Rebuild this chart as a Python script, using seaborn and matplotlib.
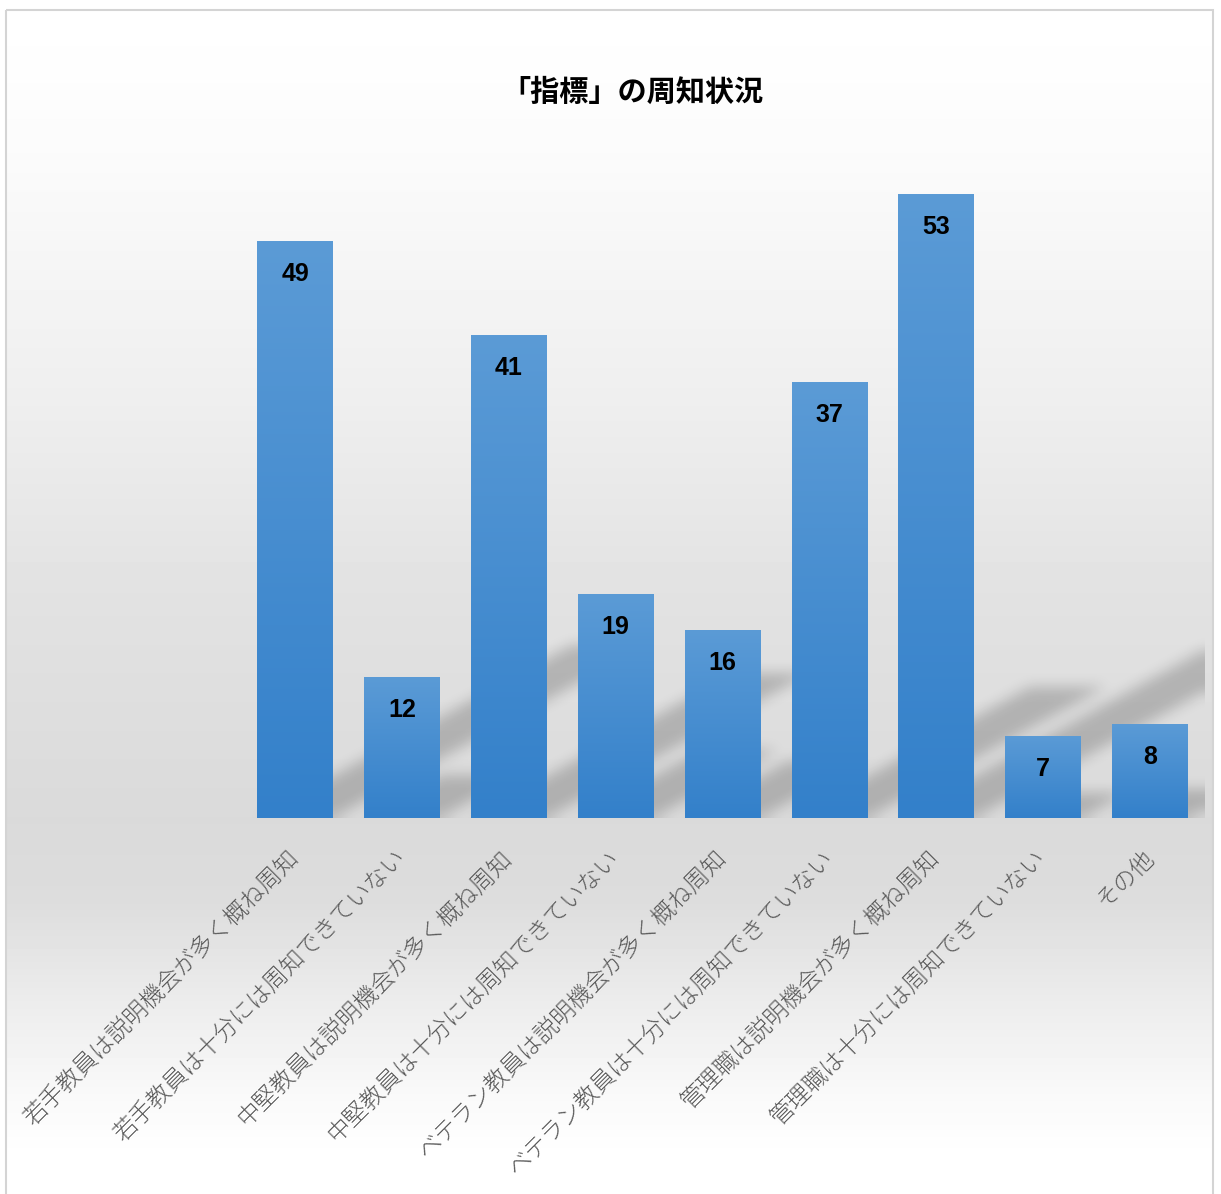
import numpy as np
import matplotlib
matplotlib.use("Agg")
import matplotlib.pyplot as plt
from matplotlib.path import Path
from matplotlib.colors import LinearSegmentedColormap
from matplotlib.patches import Rectangle
import seaborn as sns

# data
categories = [
    "若手教員は説明機会が多く概ね周知",
    "若手教員は十分には周知できていない",
    "中堅教員は説明機会が多く概ね周知",
    "中堅教員は十分には周知できていない",
    "ベテラン教員は説明機会が多く概ね周知",
    "ベテラン教員は十分には周知できていない",
    "管理職は説明機会が多く概ね周知",
    "管理職は十分には周知できていない",
    "その他",
]
values = [49, 12, 41, 19, 16, 37, 53, 7, 8]
title = "「指標」の周知状況"

W, H = 1221, 1194
sns.set_theme(style="white")
plt.rcParams["font.family"] = ["Noto Sans CJK JP", "DejaVu Sans"]

fig = plt.figure(figsize=(W / 100, H / 100), dpi=100)
fig.patch.set_facecolor("white")

# background panel with vertical gradient
bg = fig.add_axes([0, 0, 1, 1], zorder=0)
bg.axis("off")
stop_y = [10, 150, 400, 600, 820, 900, 1000, 1100, 1160, 1200]
stop_v = [1.0, 0.985, 0.935, 0.885, 0.855, 0.865, 0.925, 0.98, 1.0, 1.0]
yy = np.arange(10, 1194) + 0.5
col = np.interp(yy, stop_y, stop_v)[:, None]
bg.imshow(np.repeat(col, 1207, axis=1), cmap="gray", vmin=0, vmax=1,
          extent=(6, 1213, 1194, 10), aspect="auto", interpolation="none")
bg.add_patch(Rectangle((6, 10), 1207, 1200, fill=False, ec="#d4d4d4", lw=1.5))
bg.set_xlim(0, W)
bg.set_ylim(H, 0)

# plot area
base_px, top_px = 818, 150
unit_px = (818 - 194) / 53
ymax = (base_px - top_px) / unit_px
slot = 106.9
left_px = 295 - slot / 2
ax = fig.add_axes([left_px / W, (H - base_px) / H, 9 * slot / W, (base_px - top_px) / H], zorder=1)
ax.patch.set_alpha(0)

bar_w = 0.71
df_x = list(range(len(values)))

# soft diagonal shadows behind the bars
nx, ny = int(9 * slot), int(base_px - top_px)
xs = np.linspace(-0.5, 8.5, nx)
ys = np.linspace(0, ymax, ny)
gx, gy = np.meshgrid(xs, ys)
pts = np.column_stack([gx.ravel(), gy.ravel()])
mask = np.zeros(gx.size)
sx, sy = 0.06, 0.3
for i, v in enumerate(values):
    poly = Path([(i - bar_w / 2, 0), (i + bar_w / 2, 0),
                 (i + bar_w / 2 + sx * v, sy * v), (i - bar_w / 2 + sx * v, sy * v)])
    mask = np.maximum(mask, poly.contains_points(pts).astype(float))
mask = mask.reshape(ny, nx)


def box_blur(a, r):
    k = 2 * r + 1
    for axis in (0, 1):
        pw = [(0, 0), (0, 0)]
        pw[axis] = (r + 1, r)
        p = np.pad(a, pw, mode="edge")
        c = np.cumsum(p, axis=axis)
        if axis == 0:
            a = (c[k:] - c[:-k]) / k
        else:
            a = (c[:, k:] - c[:, :-k]) / k
    return a


for _ in range(3):
    mask = box_blur(mask, 6)
rgba = np.zeros((ny, nx, 4))
rgba[..., 3] = mask * 0.2
ax.imshow(rgba, extent=(-0.5, 8.5, 0, ymax), origin="lower", aspect="auto", zorder=1)

sns.barplot(x=df_x, y=values, color="#4a8fd2", width=bar_w, saturation=1, ax=ax,
            zorder=2, edgecolor="none", linewidth=0)

grad_cmap = LinearSegmentedColormap.from_list("bar", ["#3380ca", "#5b9bd6"])
grad = np.linspace(0, 1, 256)[:, None]
for p in ax.patches:
    x0, w, h = p.get_x(), p.get_width(), p.get_height()
    im = ax.imshow(grad, cmap=grad_cmap, extent=(x0, x0 + w, 0, h), origin="lower",
                   aspect="auto", zorder=3)
    im.set_clip_path(p)

for i, v in enumerate(values):
    ax.text(i, v - 33 / unit_px, str(v), ha="center", va="center", fontsize=18,
            fontweight="bold", family=["Liberation Sans", "DejaVu Sans"], color="black", zorder=4)

ax.set_xlim(-0.5, 8.5)
ax.set_ylim(0, ymax)
ax.set_yticks([])
ax.set_xticks(df_x)
ax.set_xticklabels(categories, rotation=45, ha="right", va="center", rotation_mode="anchor",
                   fontsize=17, color="#595959", fontweight="light")
ax.tick_params(axis="x", length=0, pad=26)
ax.set_xlabel("")
ax.set_ylabel("")
for s in ax.spines.values():
    s.set_visible(False)

fig.text(632 / W, 1 - 92 / H, title, ha="center", va="center", fontsize=21,
         fontweight="bold", color="black")

fig.savefig("out.png", dpi=100, facecolor="white")
